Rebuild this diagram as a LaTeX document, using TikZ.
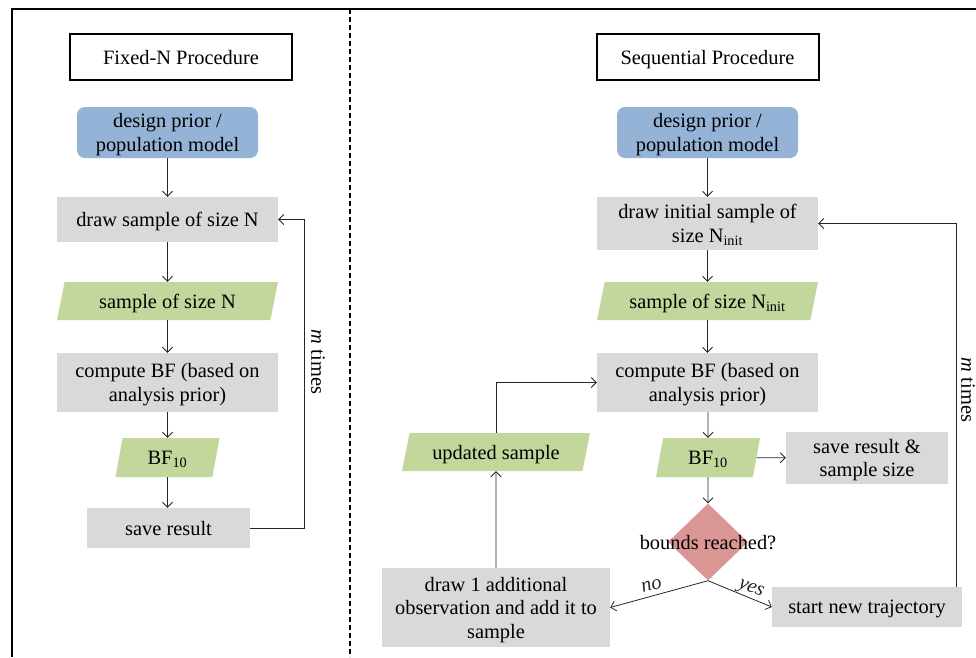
\documentclass[tikz,border=0pt]{standalone}
\usepackage{fontspec}
\setmainfont{Liberation Serif}
\usetikzlibrary{shapes.geometric,arrows.meta,positioning}
\definecolor{priorblue}{HTML}{95B3D7}
\definecolor{stepgray}{HTML}{D9D9D9}
\definecolor{datagreen}{HTML}{C3D69B}
\definecolor{decred}{HTML}{D99694}
\begin{document}
\begin{tikzpicture}[x=1pt, y=-1pt, font=\fontsize{20.4}{23.5}\selectfont, every node/.style={inner sep=0pt, text depth=-1.5pt},
	titlebox/.style={draw, line width=2pt, minimum width=222pt, minimum height=46pt},
	priorbox/.style={fill=priorblue, rounded corners=8pt, minimum width=181pt, minimum height=51pt, align=center},
	stepbox/.style={fill=stepgray, minimum width=221pt, minimum height=45pt, align=center},
	databox/.style={trapezium, trapezium left angle=62, trapezium right angle=118, trapezium stretches body, fill=datagreen, minimum width=221pt, minimum height=38pt},
	decbox/.style={diamond, fill=decred, minimum width=80pt, minimum height=77pt},
	answer/.style={sloped, above=1pt, text depth=4pt, font=\fontsize{20.4}{23.5}\selectfont\itshape},
	arr/.style={-{Straight Barb[length=5pt,width=10pt]}, line width=0.8pt, black!85}]
	\useasboundingbox (0,0) rectangle (976,657);
	% frame and divider
	\draw[line width=2.5pt] (12,657) -- (12,9) -- (976,9);
	\draw[line width=2pt, dash pattern=on 5pt off 3pt] (350,9) -- (350,657);
	% fixed-N
	\node[titlebox] (fixtitle) at (181,57) {Fixed-N Procedure};
	\node[priorbox] (fixprior) at (167.5,132.5) {design prior /\\population model};
	\node[stepbox] (fixdraw) at (167.5,219.5) {draw sample of size N};
	\node[databox] (fixsample) at (167.5,301) {sample of size N};
	\node[stepbox, minimum height=59pt] (fixbf) at (167.5,382.5) {compute BF (based on\\analysis prior)};
	\node[databox, minimum width=104pt, minimum height=39pt] (fixbfval) at (167.5,457.5) {BF\textsubscript{10}};
	\node[stepbox, minimum width=163pt, minimum height=40pt] (fixsave) at (168.5,528) {save result};
	\coordinate (fixturn) at (304,528);
	\node[rotate=-90] (fixtimes) at (318,362) {\textit{m} times};
	\draw[arr] (fixprior) -- (fixdraw);
	\draw[arr] (fixdraw) -- (fixsample);
	\draw[arr] (fixsample) -- (fixbf);
	\draw[arr] (fixbf) -- (fixbfval);
	\draw[arr] (fixbfval) -- (fixsave.north -| fixbfval);
	\draw[arr] (fixsave.east) -- (fixturn) |- (fixdraw.east);
	% sequential
	\node[titlebox] (seqtitle) at (707.5,57) {Sequential Procedure};
	\node[priorbox] (seqprior) at (707.5,132.5) {design prior /\\population model};
	\node[stepbox, minimum height=53pt] (seqdraw) at (707.5,223.5) {draw initial sample of\\size N\textsubscript{init}};
	\node[databox] (seqsample) at (707.5,301) {sample of size N\textsubscript{init}};
	\node[stepbox, minimum height=59pt] (seqbf) at (707.5,382.5) {compute BF (based on\\analysis prior)};
	\node[databox, minimum width=104pt, minimum height=39pt] (seqbfval) at (708,457.5) {BF\textsubscript{10}};
	\node[stepbox, minimum width=162pt, minimum height=52pt] (seqsave) at (867,458) {save result \&\\sample size};
	\node[decbox, label=center:bounds reached?] (seqbounds) at (708,542) {};
	\node[stepbox, minimum width=228pt, minimum height=79pt] (seqadd) at (496,607.5) {draw 1 additional\\observation and add it to\\sample};
	\node[stepbox, minimum width=190pt, minimum height=40pt] (seqnew) at (867,607) {start new trajectory};
	\node[databox, minimum width=188pt] (sequpd) at (496,452) {updated sample};
	\coordinate (seqturn) at (956,587);
	\node[rotate=-90] (seqtimes) at (968,390) {\textit{m} times};
	\draw[arr] (seqprior) -- (seqdraw);
	\draw[arr] (seqdraw) -- (seqsample);
	\draw[arr] (seqsample) -- (seqbf);
	\draw[arr] (seqbf.south -| seqbfval) -- (seqbfval);
	\draw[arr] (seqbfval) -- (seqsave);
	\draw[arr] (seqbfval) -- (seqbounds);
	\draw[arr] (seqbounds.south) -- (seqadd.east) node[answer, pos=0.55] (seqno) {no};
	\draw[arr] (seqbounds.south) -- (seqnew.west) node[answer, pos=0.62] (seqyes) {yes};
	\draw[arr] (seqadd) -- (sequpd);
	\draw[arr] (sequpd.north) |- (seqbf.west);
	\draw[arr] (seqturn) |- (seqdraw.east);
\end{tikzpicture}
\end{document}
